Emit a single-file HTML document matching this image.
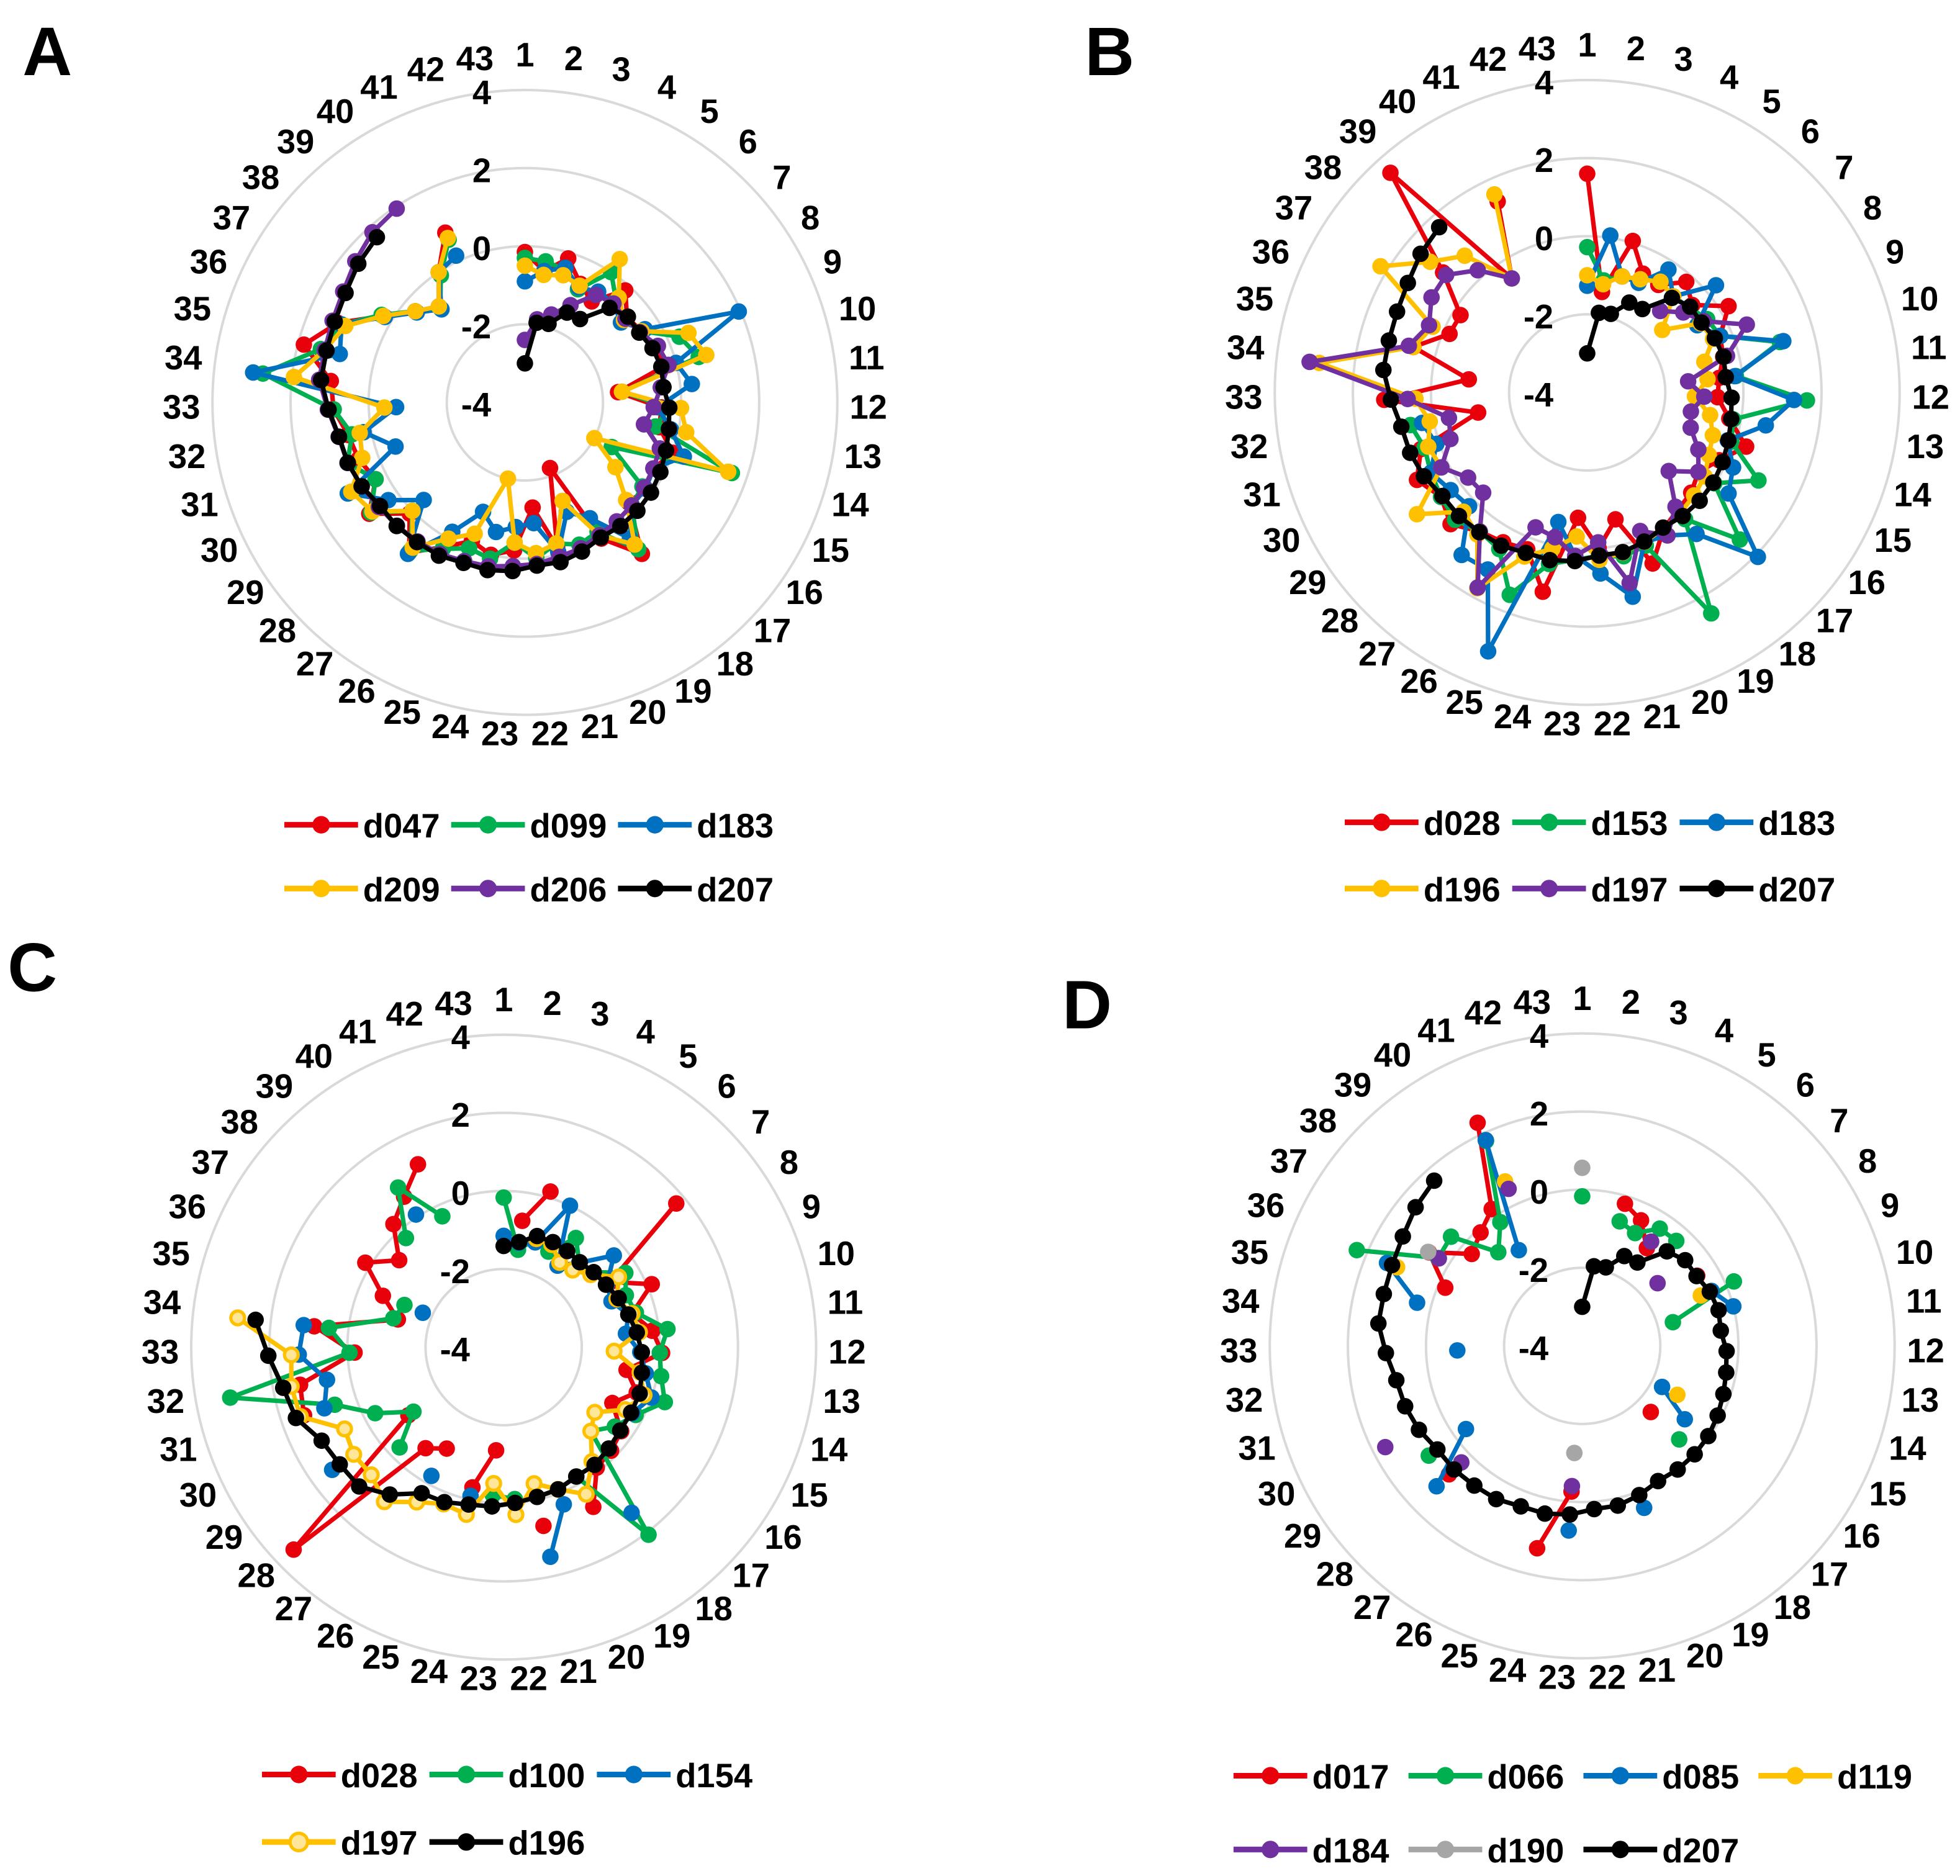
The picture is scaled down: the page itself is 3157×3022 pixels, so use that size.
<!DOCTYPE html>
<html><head><meta charset="utf-8"><title>Radar charts A-D</title>
<style>
html,body{margin:0;padding:0;background:#fff;}
svg{display:block;}
text{font-family:"Liberation Sans",Arial,sans-serif;font-weight:bold;fill:#000;}
</style></head>
<body>
<svg id="fig" xmlns="http://www.w3.org/2000/svg" width="3157" height="3022" viewBox="0 0 1568.3 1501.2"></svg>
<script>
const n = null;
const categories = ["1","2","3","4","5","6","7","8","9","10","11","12","13","14","15","16","17","18","19","20","21","22","23","24","25","26","27","28","29","30","31","32","33","34","35","36","37","38","39","40","41","42","43"];
const ringTicks = [4, 2, 0, -2, -4];

// shared reference series
const d207 = [-3.0,-1.94,-1.9,-1.46,-1.44,-0.75,-0.57,-0.57,-0.45,-0.39,-0.43,-0.3,-0.25,-0.18,-0.1,-0.03,0.0,0.0,-0.03,0.09,0.19,0.19,0.33,0.4,0.4,0.5,0.52,0.56,0.56,0.7,0.79,0.84,1.03,1.25,1.25,1.29,1.38,1.55,1.68,n,n,n,n];

// Panel A
const A_d047 = [-0.15,-0.6,-0.15,-0.65,-0.9,-0.15,-0.6,-0.5,-0.4,-0.3,-1.6,-0.5,-0.5,0.0,-0.3,-0.2,-0.3,0.9,0.0,-2.2,-0.2,-1.3,-0.2,0.0,-0.2,0.25,0.85,0.1,0.9,0.3,0.5,0.6,0.9,1.0,1.85,1.2,0.25,-0.35,-0.7,0.0,0.8,n,n];
const A_d099 = [-0.3,-0.35,-0.45,-0.8,0.0,-0.5,-0.7,-0.5,0.3,0.6,-1.5,-0.3,-0.6,1.6,-1.5,-0.3,-0.2,0.75,-0.2,-0.1,-0.3,0.0,-0.4,0.1,0.0,0.3,0.8,0.0,0.85,0.3,0.8,0.5,0.9,2.75,1.4,1.1,0.3,-0.35,-0.75,-0.1,0.6,n,n];
const A_d183 = [-0.9,-0.6,-0.4,-0.75,-0.6,-0.6,-0.8,-0.4,1.95,0.0,0.3,-0.6,-0.2,0.3,-0.3,-0.2,-0.2,0.4,-0.6,-1.0,-0.07,-0.9,-0.8,-0.6,-1.0,-0.2,0.9,-0.4,0.3,1.1,-0.5,0.2,-0.7,3.0,0.9,1.1,0.2,-0.4,-0.8,0.0,0.15,n,n];
const A_d209 = [-0.5,-0.7,-0.6,-0.7,0.4,-0.4,-0.7,-0.5,0.55,0.8,-1.5,0.0,0.2,1.5,-2.0,-1.15,-0.4,0.6,-0.1,-1.3,-0.3,-0.13,-0.4,-2.0,-0.4,0.0,0.7,0.0,0.8,1.0,0.4,0.3,-0.4,1.95,1.3,1.0,0.25,-0.35,-0.7,0.0,0.65,n,n];
const A_d206 = [-2.4,-1.85,-1.65,-1.25,-0.7,-0.6,-0.65,-0.55,-0.3,-0.2,-0.5,-0.7,-0.9,-0.35,-0.3,-0.25,-0.2,-0.15,-0.1,0.0,0.05,0.15,0.2,0.3,0.35,0.45,0.5,0.55,0.6,0.7,0.8,0.85,1.05,1.3,1.3,1.35,1.45,1.65,1.85,1.95,n,n,n];

// Panel B
const B_d028 = [1.6,-1.4,0.05,-0.64,-0.7,-0.2,-0.5,0.24,-0.3,-0.4,-0.6,-0.66,-0.3,0.3,-0.2,-0.5,-0.3,-0.2,0.0,0.69,-0.67,0.0,-0.78,1.23,0.3,0.4,0.5,0.86,0.6,0.9,0.5,-1.16,1.2,-0.95,0.6,-0.17,-0.2,0.8,3.55,-0.5,1.4,n,n];
const B_d153 = [-0.28,-1.1,-0.9,-0.8,-0.6,-0.7,-0.6,-0.4,-0.3,1.1,-0.17,1.63,-0.2,-0.1,0.93,0.0,1.43,0.1,2.49,0.2,0.3,0.2,0.3,0.5,1.55,0.6,0.5,0.7,0.6,0.5,0.4,0.6,n,n,n,n,n,n,n,n,n,n,n];
const B_d183 = [-1.27,0.06,-0.9,-0.9,-0.23,-0.7,0.29,-0.7,-0.3,1.19,-0.2,1.3,0.65,-0.2,0.2,0.45,2.07,0.58,0.2,0.1,1.36,0.65,0.2,-0.6,3.1,1.2,1.26,0.2,0.3,0.5,0.08,0.3,n,n,n,n,n,n,n,n,n,n,n];
const B_d196 = [-1.0,-1.2,-0.9,-0.8,-0.6,-0.7,-1.5,-0.6,-0.5,-0.9,-0.9,-1.24,-0.8,-0.6,-0.5,-0.3,-0.2,-0.1,0.0,0.1,0.2,0.3,-0.3,0.1,0.5,1.75,0.6,0.4,1.36,0.2,0.3,0.1,0.4,2.9,0.6,0.3,2.2,1.23,0.7,-0.5,1.6,n,n];
const B_d197 = [n,n,n,n,n,-1.2,-0.8,-0.5,0.44,-0.3,-1.4,-1.0,-1.3,-1.2,-0.8,-0.5,-1.1,-0.3,0.2,-0.2,1.0,-0.15,0.2,-0.2,-0.3,1.73,0.5,-0.3,-0.25,0.2,-0.3,-0.4,0.6,3.15,0.72,0.4,0.67,0.7,0.2,-0.5,n,n,n];

// Panel C
const C_d028 = [n,-0.73,0.16,n,n,n,1.75,-0.8,0.12,-0.6,-0.17,0.06,-0.8,-0.4,-0.87,-0.3,-0.18,-0.1,0.69,n,0.69,n,-1.35,-0.32,n,-1.02,-0.73,3.47,-1.0,n,1.4,1.3,-0.18,0.88,-1.2,-0.64,0.15,-0.52,0.23,0.62,1.17,n,n];
const C_d100 = [-0.17,-1.48,-1.1,-1.3,-0.65,-1.1,-1.0,-0.35,-0.6,-0.5,0.22,0.0,0.1,0.36,-0.2,-0.5,-0.9,2.07,-0.2,n,n,-0.1,-0.2,n,n,n,n,-0.3,-1.16,-0.3,0.57,3.12,-0.05,0.5,-1.08,-1.24,n,n,-0.25,0.9,-0.3,n,n];
const C_d154 = [-1.15,-1.3,-1.2,0.0,-1.5,-1.1,-0.33,-0.9,-1.0,-0.7,-0.85,-0.5,-0.3,0.0,-0.3,n,n,1.36,n,0.31,1.5,n,n,-0.1,n,-0.22,n,n,1.4,n,0.85,0.6,1.25,1.15,n,-1.75,n,n,n,0.07,n,n,n];
const C_d197 = [n,n,-1.1,-1.1,-1.4,-1.35,-1.1,-0.55,-0.85,-0.6,-0.5,-1.17,-0.45,-0.2,-0.5,-1.13,-0.9,-0.3,0.32,-0.1,-0.42,0.3,-0.5,0.39,0.3,0.55,1.0,0.71,0.72,0.58,1.5,1.53,1.44,2.85,n,n,n,n,n,n,n,n,n];
const C_d196 = [-1.41,-1.28,-1.03,-1.03,-1.05,-1.08,-1.0,-0.93,-0.8,-0.7,-0.57,-0.46,-0.4,-0.32,-0.33,-0.33,-0.26,-0.19,-0.2,-0.1,-0.07,0.0,0.09,0.13,0.25,0.29,0.77,1.14,1.16,1.24,1.62,1.74,2.03,2.39,n,n,n,n,n,n,n,n,n];

// Panel D
const D_d017 = [n,n,-0.2,-0.45,-1.0,n,n,-0.55,n,n,n,n,n,n,n,n,-1.56,n,n,n,n,n,-0.26,1.31,n,n,n,0.74,n,n,n,n,n,n,n,-0.19,0.6,-0.32,-0.1,0.2,2.31,n,n];
const D_d066 = [-0.17,n,-0.67,-0.81,-0.4,-0.39,n,n,0.22,-1.6,n,n,n,n,n,n,-0.55,n,n,n,n,n,n,n,n,n,n,n,0.83,n,n,n,n,n,n,2.27,0.32,0.37,-0.78,-0.2,1.8,n,n];
const D_d085 = [n,n,n,n,n,n,n,n,-0.4,0.0,n,n,n,n,-1.7,-0.77,n,n,n,0.44,n,n,0.74,n,n,n,n,1.18,-0.34,n,n,n,-0.8,n,0.37,1.43,n,n,n,-1.06,1.82,n,n];
const D_d119 = [n,n,n,n,n,n,n,n,-0.7,n,n,n,n,n,-1.26,n,n,n,n,n,n,n,n,n,n,n,n,n,n,n,n,n,n,n,n,1.15,n,n,n,n,0.65,n,n];
const D_d184 = [n,n,n,n,-0.8,n,-1.49,n,n,n,n,n,n,n,n,n,n,n,n,n,n,n,-0.4,n,n,n,n,0.3,n,1.67,n,n,n,n,n,n,0.3,n,n,n,0.44,n,n];
const D_d190 = [0.56,n,n,n,n,n,n,n,n,n,n,n,n,n,n,n,n,n,n,n,n,n,-1.25,n,n,n,n,n,n,n,n,n,n,n,n,n,0.62,n,n,n,n,n,n];

const RED="#E8000B", GREEN="#00B050", BLUE="#0070C0", YEL="#FFC000", PUR="#7030A0", BLK="#000000", GRY="#A6A6A6";

const panels = [
  {id:"a", letter:"A", lx:18, ly:60, cx:420, cy:322, R:250,
   series:[["d047",A_d047,RED],["d099",A_d099,GREEN],["d183",A_d183,BLUE],["d209",A_d209,YEL],["d206",A_d206,PUR],["d207",d207,BLK]],
   legend:{x:227.5, dx:133.5, rows:[660,711], perRow:3}},
  {id:"b", letter:"B", lx:868, ly:60, cx:1270, cy:314, R:250,
   series:[["d028",B_d028,RED],["d153",B_d153,GREEN],["d183",B_d183,BLUE],["d196",B_d196,YEL],["d197",B_d197,PUR],["d207",d207,BLK]],
   legend:{x:1076, dx:134, rows:[658,711], perRow:3}},
  {id:"c", letter:"C", lx:6, ly:793, cx:403, cy:1078, R:250,
   series:[["d028",C_d028,RED],["d100",C_d100,GREEN],["d154",C_d154,BLUE],["d197",C_d197,YEL,true],["d196",C_d196,BLK]],
   legend:{x:209.6, dx:134, rows:[1420,1474], perRow:3}},
  {id:"d", letter:"D", lx:850, ly:823, cx:1266, cy:1077, R:250,
   series:[["d017",D_d017,RED],["d066",D_d066,GREEN],["d085",D_d085,BLUE],["d119",D_d119,YEL],["d184",D_d184,PUR],["d190",D_d190,GRY],["d207",d207,BLK]],
   legend:{x:987, dx:140, rows:[1421,1480], perRow:4}}
];

const SVGNS = "http://www.w3.org/2000/svg";
const fig = document.getElementById("fig");
function mk(tag, attrs, parent){
  const e = document.createElementNS(SVGNS, tag);
  for (const k in attrs) e.setAttribute(k, attrs[k]);
  (parent||fig).appendChild(e);
  return e;
}
const VMIN = -4, VMAX = 4;
function rScale(p, v){ return (v - VMIN) / (VMAX - VMIN) * p.R; }
function angleOf(i){ return i * 2 * Math.PI / categories.length; }
function pt(p, i, v){
  const r = rScale(p, v), a = angleOf(i);
  return [p.cx + r*Math.sin(a), p.cy - r*Math.cos(a)];
}

panels.forEach(p => {
  const g = mk("g", {});
  
  

  const L = mk("text", {x:p.lx, y:p.ly, "font-size":55}, g);
  L.textContent = p.letter;
  
  

  ringTicks.forEach(t => {
    if (t <= VMIN) return;
    const c = mk("circle", {cx:p.cx, cy:p.cy, r:rScale(p,t), fill:"none", stroke:"#D9D9D9", "stroke-width":2}, g);
    
    
  });
  ringTicks.forEach(t => {
    const tx = mk("text", {x:p.cx-27, y:p.cy - rScale(p,t) + 2, "font-size":27, "text-anchor":"end", "dominant-baseline":"central"}, g);
    tx.textContent = String(t);
    
    
  });
  categories.forEach((c, i) => {
    const a = angleOf(i);
    const w = c.length * 15, h = 24;
    const rr = p.R + 10;
    const x = p.cx + rr*Math.sin(a) + Math.sin(a)*w/2;
    const y = p.cy - rr*Math.cos(a) - Math.cos(a)*h/2 - 6;
    const tx = mk("text", {x:x, y:y, "font-size":27, "text-anchor":"middle", "dominant-baseline":"central"}, g);
    tx.textContent = c;
    
    
  });

  p.series.forEach(s => {
    const [name, vals, col, hollow] = s;
    const sg = mk("g", {}, g);
    
    
    let d = "", open = false;
    vals.forEach((v, i) => {
      if (v === null) { open = false; return; }
      const [x, y] = pt(p, i, v);
      d += (open ? "L" : "M") + x.toFixed(1) + " " + y.toFixed(1) + " ";
      open = true;
    });
    if (d) {
      const path = mk("path", {d:d, fill:"none", stroke:col, "stroke-width":3.6, "stroke-linejoin":"round"}, sg);
      
      
    }
    vals.forEach((v, i) => {
      if (v === null) return;
      const [x, y] = pt(p, i, v);
      const m = mk("circle", {cx:x, cy:y, r:hollow?5.5:6.6, fill:hollow?"#FFE699":col, stroke:hollow?col:"none", "stroke-width":hollow?2.6:0}, sg);
      
      
    });
  });

  p.series.forEach((s, k) => {
    const [name, vals, col, hollow] = s;
    const row = Math.floor(k / p.legend.perRow), colI = k % p.legend.perRow;
    const x0 = p.legend.x + colI * p.legend.dx, y0 = p.legend.rows[row];
    const lg = mk("g", {}, g);
    
    
    mk("line", {x1:x0, y1:y0, x2:x0+59, y2:y0, stroke:col, "stroke-width":4.5}, lg);
    mk("circle", {cx:x0+29.5, cy:y0, r:7, fill:hollow?"#FFE699":col, stroke:hollow?col:"none", "stroke-width":hollow?2.6:0}, lg);
    const t = mk("text", {x:x0+63, y:y0+1, "font-size":27, "dominant-baseline":"central"}, lg);
    t.textContent = name;
  });
});
</script>
</body></html>
